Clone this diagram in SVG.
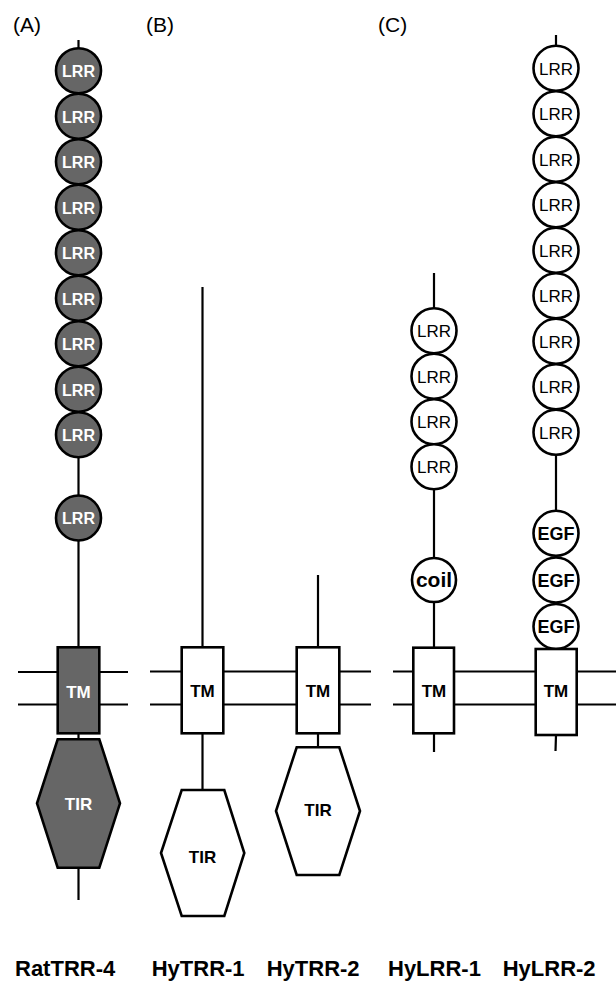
<svg xmlns="http://www.w3.org/2000/svg" width="616" height="983" viewBox="0 0 616 983">
<style>
.ln{stroke:#000;stroke-width:2.2;fill:none}
.g{fill:#666;stroke:#000;stroke-width:2.6}
.w{fill:#fff;stroke:#000;stroke-width:2.6}
.t{font-family:"Liberation Sans",Arial,sans-serif;text-anchor:middle}
.tw{fill:#fff;font-weight:bold}
.tb{fill:#000;font-weight:bold}
.lr{fill:#000;font-size:17px}
.hd{font-family:"Liberation Sans",Arial,sans-serif;font-size:21px;fill:#000}
.nm{font-family:"Liberation Sans",Arial,sans-serif;font-size:22px;font-weight:bold;fill:#000}
</style>
<rect width="616" height="983" fill="#fff"/>
<g id="connectors">
<line class="ln" x1="78.5" y1="40" x2="78.5" y2="647"/>
<line class="ln" x1="78.5" y1="733" x2="78.5" y2="740"/>
<line class="ln" x1="78.5" y1="867" x2="78.5" y2="900"/>
<line class="ln" x1="202.5" y1="287" x2="202.5" y2="648"/>
<line class="ln" x1="202.5" y1="733" x2="202.5" y2="790"/>
<line class="ln" x1="318" y1="575" x2="318" y2="648"/>
<line class="ln" x1="318" y1="733" x2="318" y2="748"/>
<line class="ln" x1="434" y1="273" x2="434" y2="648"/>
<line class="ln" x1="434" y1="733" x2="434" y2="752"/>
<line class="ln" x1="556" y1="35" x2="556" y2="649"/>
<line class="ln" x1="556" y1="735" x2="555.5" y2="751"/>
<line class="ln" x1="18" y1="672" x2="128" y2="672"/>
<line class="ln" x1="18" y1="704.5" x2="128" y2="704.5"/>
<line class="ln" x1="150" y1="671.5" x2="371" y2="671.5"/>
<line class="ln" x1="150" y1="704.5" x2="371" y2="704.5"/>
<line class="ln" x1="393" y1="671.5" x2="616" y2="671.5"/>
<line class="ln" x1="393" y1="704.5" x2="616" y2="704.5"/>
</g>
<g id="labels">
<text class="hd" x="13" y="32">(A)</text>
<text class="hd" x="146" y="32">(B)</text>
<text class="hd" x="378" y="32">(C)</text>
</g>
<g id="RatTRR-4">
<g class="lrrA">
<circle class="g" cx="78.5" cy="70.7" r="22.5"/>
<circle class="g" cx="78.5" cy="116.2" r="22.5"/>
<circle class="g" cx="78.5" cy="161.7" r="22.5"/>
<circle class="g" cx="78.5" cy="207.2" r="22.5"/>
<circle class="g" cx="78.5" cy="252.7" r="22.5"/>
<circle class="g" cx="78.5" cy="298.2" r="22.5"/>
<circle class="g" cx="78.5" cy="343.7" r="22.5"/>
<circle class="g" cx="78.5" cy="389.2" r="22.5"/>
<circle class="g" cx="78.5" cy="434.7" r="22.5"/>
<circle class="g" cx="78.5" cy="518" r="22.5"/>
</g>
<g class="t tw" font-size="16">
<text x="78.5" y="77">LRR</text>
<text x="78.5" y="122.5">LRR</text>
<text x="78.5" y="168">LRR</text>
<text x="78.5" y="213.5">LRR</text>
<text x="78.5" y="259">LRR</text>
<text x="78.5" y="304.5">LRR</text>
<text x="78.5" y="350">LRR</text>
<text x="78.5" y="395.5">LRR</text>
<text x="78.5" y="441">LRR</text>
<text x="78.5" y="524.3">LRR</text>
</g>
<rect class="g" x="57.7" y="647.3" width="41.6" height="86"/>
<text class="t tw" font-size="17" x="78.5" y="697.5">TM</text>
<polygon class="g" points="57.7,739.3 99.3,739.3 120,803.3 99.3,867.7 57.7,867.7 37,803.3"/>
<text class="t tw" font-size="17" x="78.5" y="810">TIR</text>
<text class="nm" x="15" y="976">RatTRR-4</text>
</g>
<g id="HyTRR-1">
<rect class="w" x="181.7" y="647.3" width="41.6" height="86"/>
<text class="t tb" font-size="17" x="202.5" y="697">TM</text>
<polygon class="w" points="181.7,790 224.3,790 244.3,853 224.3,916 181.7,916 161,853"/>
<text class="t tb" font-size="17" x="202.5" y="863">TIR</text>
<text class="nm" x="151.7" y="976">HyTRR-1</text>
</g>
<g id="HyTRR-2">
<rect class="w" x="296.7" y="647.3" width="42.6" height="86"/>
<text class="t tb" font-size="17" x="318" y="697">TM</text>
<polygon class="w" points="296.7,747.3 339.3,747.3 360,811 339.3,875 296.7,875 276,811"/>
<text class="t tb" font-size="17" x="318" y="816">TIR</text>
<text class="nm" x="266.7" y="976">HyTRR-2</text>
</g>
<g id="HyLRR-1">
<circle class="w" cx="434" cy="330.7" r="22.5"/>
<circle class="w" cx="434" cy="376.2" r="22.5"/>
<circle class="w" cx="434" cy="421.7" r="22.5"/>
<circle class="w" cx="434" cy="466.7" r="22.5"/>
<circle class="w" cx="434" cy="580" r="22"/>
<g class="t lr">
<text x="434" y="337">LRR</text>
<text x="434" y="382.5">LRR</text>
<text x="434" y="428">LRR</text>
<text x="434" y="473">LRR</text>
</g>
<text class="t tb" font-size="21" x="434" y="587">coil</text>
<rect class="w" x="413.3" y="647.7" width="40.7" height="85.6"/>
<text class="t tb" font-size="17" x="434" y="697">TM</text>
<text class="nm" x="388" y="976">HyLRR-1</text>
</g>
<g id="HyLRR-2">
<circle class="w" cx="556" cy="68.3" r="22.5"/>
<circle class="w" cx="556" cy="113.8" r="22.5"/>
<circle class="w" cx="556" cy="159.3" r="22.5"/>
<circle class="w" cx="556" cy="204.8" r="22.5"/>
<circle class="w" cx="556" cy="250.3" r="22.5"/>
<circle class="w" cx="556" cy="295.8" r="22.5"/>
<circle class="w" cx="556" cy="341.3" r="22.5"/>
<circle class="w" cx="556" cy="386.8" r="22.5"/>
<circle class="w" cx="556" cy="432.3" r="22.5"/>
<g class="t lr">
<text x="556" y="74.6">LRR</text>
<text x="556" y="120.1">LRR</text>
<text x="556" y="165.6">LRR</text>
<text x="556" y="211.1">LRR</text>
<text x="556" y="256.6">LRR</text>
<text x="556" y="302.1">LRR</text>
<text x="556" y="347.6">LRR</text>
<text x="556" y="393.1">LRR</text>
<text x="556" y="438.6">LRR</text>
</g>
<circle class="w" cx="556" cy="533.3" r="22.5"/>
<circle class="w" cx="556" cy="580" r="22.5"/>
<circle class="w" cx="556" cy="626.5" r="22.5"/>
<g class="t tb" font-size="18">
<text x="556" y="539.8">EGF</text>
<text x="556" y="586.5">EGF</text>
<text x="556" y="633">EGF</text>
</g>
<rect class="w" x="535.7" y="649" width="41" height="86"/>
<text class="t tb" font-size="17" x="556" y="697">TM</text>
<text class="nm" x="502.7" y="976">HyLRR-2</text>
</g>
</svg>
